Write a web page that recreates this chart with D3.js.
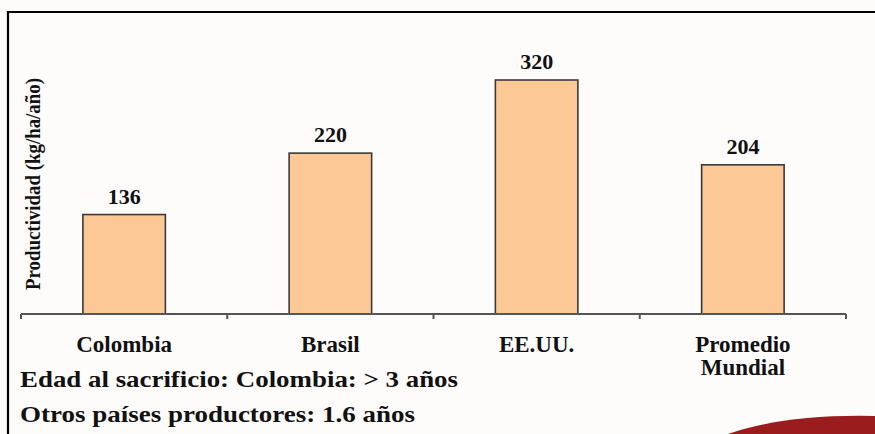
<!DOCTYPE html>
<html>
<head>
<meta charset="utf-8">
<title>Productividad</title>
<script src="https://d3js.org/d3.v7.min.js"></script>
<style>
  body { margin: 0; background: #fdfcfb; }
  svg { display: block; }
  text { font-family: "Liberation Serif", "DejaVu Serif", "Times New Roman", serif; font-weight: bold; fill: #111; }
</style>
</head>
<body>
<div id="chart"></div>
<script>
var categories = ["Colombia", "Brasil", "EE.UU.", "Promedio Mundial"];
var values = [136, 220, 320, 204];
var notes = ["Edad al sacrificio: Colombia: > 3 años", "Otros países productores: 1.6 años"];

var width = 875, height = 434;
var svg = d3.select("#chart").append("svg")
  .attr("width", width)
  .attr("height", height);

svg.append("rect").attr("width", width).attr("height", height).attr("fill", "#fdfcfb");

// slide frame
svg.append("path")
  .attr("d", "M8,434 L8,12 L875,12")
  .attr("fill", "none")
  .attr("stroke", "#000")
  .attr("stroke-width", 2.2);

// red swoosh in corner
svg.append("path")
  .attr("d", "M728,434 Q785,414 875,416 L875,434 Z")
  .attr("fill", "#9a1c1c");

var x = d3.scaleBand().domain(categories).range([21, 846]).padding(0);
var y = d3.scaleLinear().domain([0, 400]).range([314, 21.5]);
var barW = x.bandwidth() * 0.4;

svg.selectAll("rect.bar")
  .data(values)
  .enter().append("rect")
  .attr("class", "bar")
  .attr("x", function (d, i) { return x(categories[i]) + x.bandwidth() / 2 - barW / 2; })
  .attr("y", function (d) { return y(d); })
  .attr("width", barW)
  .attr("height", function (d) { return y(0) - y(d); })
  .attr("fill", "#fcc896")
  .attr("stroke", "#3a3a3a")
  .attr("stroke-width", 1.6);

svg.selectAll("text.val")
  .data(values)
  .enter().append("text")
  .attr("class", "val")
  .attr("x", function (d, i) { return x(categories[i]) + x.bandwidth() / 2; })
  .attr("y", function (d) { return y(d) - 11; })
  .attr("text-anchor", "middle")
  .style("font-size", "22px")
  .text(function (d) { return d; });

// x axis, ticks on the band edges
var edges = categories.map(function (c) { return x(c); }).concat([x.range()[1]]);
svg.append("line")
  .attr("x1", x.range()[0]).attr("x2", x.range()[1])
  .attr("y1", y(0)).attr("y2", y(0))
  .attr("stroke", "#555").attr("stroke-width", 2);
svg.selectAll("line.tick")
  .data(edges)
  .enter().append("line")
  .attr("class", "tick")
  .attr("x1", function (d) { return d; }).attr("x2", function (d) { return d; })
  .attr("y1", y(0)).attr("y2", y(0) + 5)
  .attr("stroke", "#555").attr("stroke-width", 2);

svg.selectAll("text.cat")
  .data(categories)
  .enter().append("text")
  .attr("class", "cat")
  .attr("x", function (d) { return x(d) + x.bandwidth() / 2; })
  .attr("y", 352)
  .attr("text-anchor", "middle")
  .style("font-size", "23px")
  .each(function (d) {
    var words = d.split(" ");
    var t = d3.select(this);
    words.forEach(function (w, i) {
      t.append("tspan").attr("x", t.attr("x")).attr("dy", i ? 23 : 0).text(w);
    });
  });

// y title
svg.append("text")
  .attr("transform", "translate(40,184) rotate(-90)")
  .attr("text-anchor", "middle")
  .attr("textLength", 212)
  .attr("lengthAdjust", "spacingAndGlyphs")
  .style("font-size", "21px")
  .text("Productividad (kg/ha/año)");

var noteLen = [438, 395];
svg.selectAll("text.note")
  .data(notes)
  .enter().append("text")
  .attr("class", "note")
  .attr("x", 20)
  .attr("y", function (d, i) { return 387 + i * 35; })
  .attr("textLength", function (d, i) { return noteLen[i]; })
  .attr("lengthAdjust", "spacingAndGlyphs")
  .style("font-size", "24px")
  .text(function (d) { return d; });
</script>
</body>
</html>
